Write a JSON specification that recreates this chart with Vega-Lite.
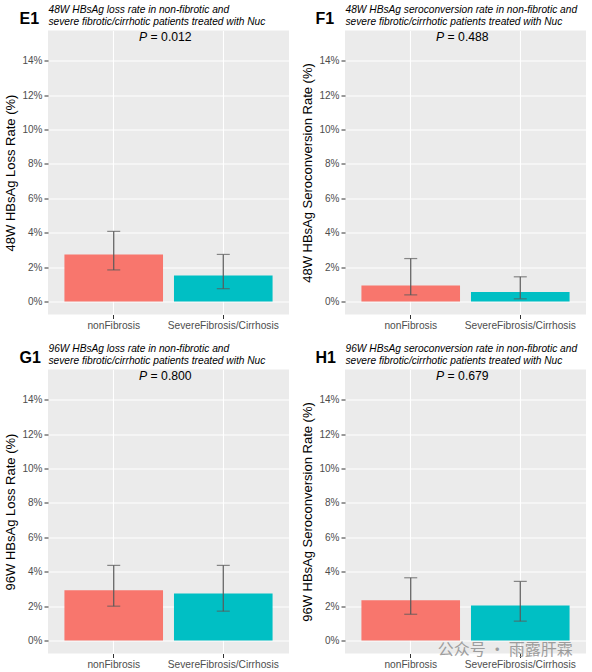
{
  "$schema": "https://vega.github.io/schema/vega-lite/v6.json",
  "padding": {"left": 4, "top": 4.5, "right": 4, "bottom": 0},
  "datasets": {
    "d": [
      {"panel": "E1", "group": "nonFibrosis", "rate": 2.74, "lo": 1.84, "hi": 4.08},
      {"panel": "E1", "group": "SevereFibrosis/Cirrhosis", "rate": 1.51, "lo": 0.75, "hi": 2.74},
      {"panel": "F1", "group": "nonFibrosis", "rate": 0.94, "lo": 0.39, "hi": 2.5},
      {"panel": "F1", "group": "SevereFibrosis/Cirrhosis", "rate": 0.55, "lo": 0.16, "hi": 1.44},
      {"panel": "G1", "group": "nonFibrosis", "rate": 2.93, "lo": 2.0, "hi": 4.37},
      {"panel": "G1", "group": "SevereFibrosis/Cirrhosis", "rate": 2.74, "lo": 1.71, "hi": 4.37},
      {"panel": "H1", "group": "nonFibrosis", "rate": 2.35, "lo": 1.53, "hi": 3.65},
      {"panel": "H1", "group": "SevereFibrosis/Cirrhosis", "rate": 2.04, "lo": 1.13, "hi": 3.44}
    ],
    "pv": [
      {"panel": "E1", "ptext": "= 0.012"},
      {"panel": "F1", "ptext": "= 0.488"},
      {"panel": "G1", "ptext": "= 0.800"},
      {"panel": "H1", "ptext": "= 0.679"}
    ]
  },
  "columns": 2,
  "spacing": {"row": 12, "column": 12},
  "concat": [
    {
      "width": 241, "height": 284,
      "data": {"name": "d"},
      "transform": [{"filter": "datum.panel == 'E1'"}],
      "resolve": {"axis": {"x": "independent"}},
      "layer": [
        {"mark": {"type": "bar"},
         "encoding": {
           "x": {"field": "group", "type": "nominal", "sort": null, "scale": {"paddingInner": 0.1, "paddingOuter": 0.15},
                 "axis": {"orient": "bottom", "title": null, "labelAngle": 0, "grid": true, "gridWidth": 1.1, "bandPosition": 0.5, "labelFontSize": 10.2}},
           "y": {"field": "rate", "type": "quantitative", "scale": {"domain": [-0.75, 15.75], "nice": false, "zero": false},
                 "axis": {"title": "48W HBsAg Loss Rate (%)", "values": [0,1,2,3,4,5,6,7,8,9,10,11,12,13,14,15],
                          "labelExpr": "datum.value % 2 == 0 ? datum.value + '%' : ''",
                          "gridWidth": {"condition": {"test": "datum.value % 2 == 0", "value": 1.1}, "value": 0.5},
                          "tickOpacity": {"condition": {"test": "datum.value % 2 == 0", "value": 1}, "value": 0},
                          "titleFontSize": 13, "titlePadding": 4}},
           "color": {"field": "group", "type": "nominal", "scale": {"domain": ["nonFibrosis", "SevereFibrosis/Cirrhosis"], "range": ["#F8766D", "#00BFC4"]}, "legend": null}
         }},
        {"mark": {"type": "rule", "color": "#5a5a5a", "strokeWidth": 1.2},
         "encoding": {
           "x": {"field": "group", "type": "nominal", "sort": null,
                 "axis": {"orient": "top", "title": "E1", "labels": false, "ticks": false, "domain": false, "grid": false,
                          "titleX": -29, "titleY": -7.5, "titleAngle": 0, "titleAlign": "left", "titleBaseline": "alphabetic",
                          "titleFontSize": 16, "titleFontWeight": "bold"}},
           "y": {"field": "lo", "type": "quantitative", "title": "48W HBsAg Loss Rate (%)"},
           "y2": {"field": "hi"}
         }},
        {"mark": {"type": "tick", "color": "#5a5a5a", "size": 13, "thickness": 1.2},
         "encoding": {
           "x": {"field": "group", "type": "nominal", "sort": null,
                 "axis": {"orient": "top", "title": ["48W HBsAg loss rate in non-fibrotic and", "severe fibrotic/cirrhotic patients treated with Nuc"],
                          "labels": false, "ticks": false, "domain": false, "grid": false,
                          "titleX": 0, "titleY": -17.6, "titleAngle": 0, "titleAlign": "left", "titleBaseline": "alphabetic",
                          "titleFontSize": 10.2, "titleFontStyle": "italic", "titleFontWeight": "normal", "titleLineHeight": 11.6}},
           "y": {"field": "lo", "type": "quantitative", "title": "48W HBsAg Loss Rate (%)"}
         }},
        {"mark": {"type": "tick", "color": "#5a5a5a", "size": 13, "thickness": 1.2},
         "encoding": {
           "x": {"field": "group", "type": "nominal", "sort": null, "axis": null},
           "y": {"field": "hi", "type": "quantitative", "title": "48W HBsAg Loss Rate (%)"}
         }},
        {"data": {"name": "pv"}, "transform": [{"filter": "datum.panel == 'E1'"}],
         "mark": {"type": "text", "text": "P", "fontStyle": "italic", "fontSize": 12.2, "align": "right", "baseline": "alphabetic", "dx": -21.3, "dy": -2.6, "color": "#000000"},
         "encoding": {"y": {"datum": 15, "type": "quantitative", "title": "48W HBsAg Loss Rate (%)"}}},
        {"data": {"name": "pv"}, "transform": [{"filter": "datum.panel == 'E1'"}],
         "mark": {"type": "text", "fontSize": 12.2, "align": "left", "baseline": "alphabetic", "dx": -17.9, "dy": -2.6, "color": "#000000"},
         "encoding": {"text": {"field": "ptext"}, "y": {"datum": 15, "type": "quantitative", "title": "48W HBsAg Loss Rate (%)"}}}
      ]
    },
    {
      "width": 241, "height": 284,
      "data": {"name": "d"},
      "transform": [{"filter": "datum.panel == 'F1'"}],
      "resolve": {"axis": {"x": "independent"}},
      "layer": [
        {"mark": {"type": "bar"},
         "encoding": {
           "x": {"field": "group", "type": "nominal", "sort": null, "scale": {"paddingInner": 0.1, "paddingOuter": 0.15},
                 "axis": {"orient": "bottom", "title": null, "labelAngle": 0, "grid": true, "gridWidth": 1.1, "bandPosition": 0.5, "labelFontSize": 10.2}},
           "y": {"field": "rate", "type": "quantitative", "scale": {"domain": [-0.75, 15.75], "nice": false, "zero": false},
                 "axis": {"title": "48W HBsAg Seroconversion Rate (%)", "values": [0,1,2,3,4,5,6,7,8,9,10,11,12,13,14,15],
                          "labelExpr": "datum.value % 2 == 0 ? datum.value + '%' : ''",
                          "gridWidth": {"condition": {"test": "datum.value % 2 == 0", "value": 1.1}, "value": 0.5},
                          "tickOpacity": {"condition": {"test": "datum.value % 2 == 0", "value": 1}, "value": 0},
                          "titleFontSize": 13, "titlePadding": 4}},
           "color": {"field": "group", "type": "nominal", "scale": {"domain": ["nonFibrosis", "SevereFibrosis/Cirrhosis"], "range": ["#F8766D", "#00BFC4"]}, "legend": null}
         }},
        {"mark": {"type": "rule", "color": "#5a5a5a", "strokeWidth": 1.2},
         "encoding": {
           "x": {"field": "group", "type": "nominal", "sort": null,
                 "axis": {"orient": "top", "title": "F1", "labels": false, "ticks": false, "domain": false, "grid": false,
                          "titleX": -30, "titleY": -7.5, "titleAngle": 0, "titleAlign": "left", "titleBaseline": "alphabetic",
                          "titleFontSize": 16, "titleFontWeight": "bold"}},
           "y": {"field": "lo", "type": "quantitative", "title": "48W HBsAg Seroconversion Rate (%)"},
           "y2": {"field": "hi"}
         }},
        {"mark": {"type": "tick", "color": "#5a5a5a", "size": 13, "thickness": 1.2},
         "encoding": {
           "x": {"field": "group", "type": "nominal", "sort": null,
                 "axis": {"orient": "top", "title": ["48W HBsAg seroconversion rate in non-fibrotic and", "severe fibrotic/cirrhotic patients treated with Nuc"],
                          "labels": false, "ticks": false, "domain": false, "grid": false,
                          "titleX": 0, "titleY": -17.6, "titleAngle": 0, "titleAlign": "left", "titleBaseline": "alphabetic",
                          "titleFontSize": 10.2, "titleFontStyle": "italic", "titleFontWeight": "normal", "titleLineHeight": 11.6}},
           "y": {"field": "lo", "type": "quantitative", "title": "48W HBsAg Seroconversion Rate (%)"}
         }},
        {"mark": {"type": "tick", "color": "#5a5a5a", "size": 13, "thickness": 1.2},
         "encoding": {
           "x": {"field": "group", "type": "nominal", "sort": null, "axis": null},
           "y": {"field": "hi", "type": "quantitative", "title": "48W HBsAg Seroconversion Rate (%)"}
         }},
        {"data": {"name": "pv"}, "transform": [{"filter": "datum.panel == 'F1'"}],
         "mark": {"type": "text", "text": "P", "fontStyle": "italic", "fontSize": 12.2, "align": "right", "baseline": "alphabetic", "dx": -21.3, "dy": -2.6, "color": "#000000"},
         "encoding": {"y": {"datum": 15, "type": "quantitative", "title": "48W HBsAg Seroconversion Rate (%)"}}},
        {"data": {"name": "pv"}, "transform": [{"filter": "datum.panel == 'F1'"}],
         "mark": {"type": "text", "fontSize": 12.2, "align": "left", "baseline": "alphabetic", "dx": -17.9, "dy": -2.6, "color": "#000000"},
         "encoding": {"text": {"field": "ptext"}, "y": {"datum": 15, "type": "quantitative", "title": "48W HBsAg Seroconversion Rate (%)"}}}
      ]
    },
    {
      "width": 241, "height": 284,
      "data": {"name": "d"},
      "transform": [{"filter": "datum.panel == 'G1'"}],
      "resolve": {"axis": {"x": "independent"}},
      "layer": [
        {"mark": {"type": "bar"},
         "encoding": {
           "x": {"field": "group", "type": "nominal", "sort": null, "scale": {"paddingInner": 0.1, "paddingOuter": 0.15},
                 "axis": {"orient": "bottom", "title": null, "labelAngle": 0, "grid": true, "gridWidth": 1.1, "bandPosition": 0.5, "labelFontSize": 10.2}},
           "y": {"field": "rate", "type": "quantitative", "scale": {"domain": [-0.75, 15.75], "nice": false, "zero": false},
                 "axis": {"title": "96W HBsAg Loss Rate (%)", "values": [0,1,2,3,4,5,6,7,8,9,10,11,12,13,14,15],
                          "labelExpr": "datum.value % 2 == 0 ? datum.value + '%' : ''",
                          "gridWidth": {"condition": {"test": "datum.value % 2 == 0", "value": 1.1}, "value": 0.5},
                          "tickOpacity": {"condition": {"test": "datum.value % 2 == 0", "value": 1}, "value": 0},
                          "titleFontSize": 13, "titlePadding": 4}},
           "color": {"field": "group", "type": "nominal", "scale": {"domain": ["nonFibrosis", "SevereFibrosis/Cirrhosis"], "range": ["#F8766D", "#00BFC4"]}, "legend": null}
         }},
        {"mark": {"type": "rule", "color": "#5a5a5a", "strokeWidth": 1.2},
         "encoding": {
           "x": {"field": "group", "type": "nominal", "sort": null,
                 "axis": {"orient": "top", "title": "G1", "labels": false, "ticks": false, "domain": false, "grid": false,
                          "titleX": -29, "titleY": -7.5, "titleAngle": 0, "titleAlign": "left", "titleBaseline": "alphabetic",
                          "titleFontSize": 16, "titleFontWeight": "bold"}},
           "y": {"field": "lo", "type": "quantitative", "title": "96W HBsAg Loss Rate (%)"},
           "y2": {"field": "hi"}
         }},
        {"mark": {"type": "tick", "color": "#5a5a5a", "size": 13, "thickness": 1.2},
         "encoding": {
           "x": {"field": "group", "type": "nominal", "sort": null,
                 "axis": {"orient": "top", "title": ["96W HBsAg loss rate in non-fibrotic and", "severe fibrotic/cirrhotic patients treated with Nuc"],
                          "labels": false, "ticks": false, "domain": false, "grid": false,
                          "titleX": 0, "titleY": -17.6, "titleAngle": 0, "titleAlign": "left", "titleBaseline": "alphabetic",
                          "titleFontSize": 10.2, "titleFontStyle": "italic", "titleFontWeight": "normal", "titleLineHeight": 11.6}},
           "y": {"field": "lo", "type": "quantitative", "title": "96W HBsAg Loss Rate (%)"}
         }},
        {"mark": {"type": "tick", "color": "#5a5a5a", "size": 13, "thickness": 1.2},
         "encoding": {
           "x": {"field": "group", "type": "nominal", "sort": null, "axis": null},
           "y": {"field": "hi", "type": "quantitative", "title": "96W HBsAg Loss Rate (%)"}
         }},
        {"data": {"name": "pv"}, "transform": [{"filter": "datum.panel == 'G1'"}],
         "mark": {"type": "text", "text": "P", "fontStyle": "italic", "fontSize": 12.2, "align": "right", "baseline": "alphabetic", "dx": -21.3, "dy": -2.6, "color": "#000000"},
         "encoding": {"y": {"datum": 15, "type": "quantitative", "title": "96W HBsAg Loss Rate (%)"}}},
        {"data": {"name": "pv"}, "transform": [{"filter": "datum.panel == 'G1'"}],
         "mark": {"type": "text", "fontSize": 12.2, "align": "left", "baseline": "alphabetic", "dx": -17.9, "dy": -2.6, "color": "#000000"},
         "encoding": {"text": {"field": "ptext"}, "y": {"datum": 15, "type": "quantitative", "title": "96W HBsAg Loss Rate (%)"}}}
      ]
    },
    {
      "width": 241, "height": 284,
      "data": {"name": "d"},
      "transform": [{"filter": "datum.panel == 'H1'"}],
      "resolve": {"axis": {"x": "independent"}},
      "layer": [
        {"mark": {"type": "bar"},
         "encoding": {
           "x": {"field": "group", "type": "nominal", "sort": null, "scale": {"paddingInner": 0.1, "paddingOuter": 0.15},
                 "axis": {"orient": "bottom", "title": null, "labelAngle": 0, "grid": true, "gridWidth": 1.1, "bandPosition": 0.5, "labelFontSize": 10.2}},
           "y": {"field": "rate", "type": "quantitative", "scale": {"domain": [-0.75, 15.75], "nice": false, "zero": false},
                 "axis": {"title": "96W HBsAg Seroconversion Rate (%)", "values": [0,1,2,3,4,5,6,7,8,9,10,11,12,13,14,15],
                          "labelExpr": "datum.value % 2 == 0 ? datum.value + '%' : ''",
                          "gridWidth": {"condition": {"test": "datum.value % 2 == 0", "value": 1.1}, "value": 0.5},
                          "tickOpacity": {"condition": {"test": "datum.value % 2 == 0", "value": 1}, "value": 0},
                          "titleFontSize": 13, "titlePadding": 4}},
           "color": {"field": "group", "type": "nominal", "scale": {"domain": ["nonFibrosis", "SevereFibrosis/Cirrhosis"], "range": ["#F8766D", "#00BFC4"]}, "legend": null}
         }},
        {"mark": {"type": "rule", "color": "#5a5a5a", "strokeWidth": 1.2},
         "encoding": {
           "x": {"field": "group", "type": "nominal", "sort": null,
                 "axis": {"orient": "top", "title": "H1", "labels": false, "ticks": false, "domain": false, "grid": false,
                          "titleX": -30, "titleY": -7.5, "titleAngle": 0, "titleAlign": "left", "titleBaseline": "alphabetic",
                          "titleFontSize": 16, "titleFontWeight": "bold"}},
           "y": {"field": "lo", "type": "quantitative", "title": "96W HBsAg Seroconversion Rate (%)"},
           "y2": {"field": "hi"}
         }},
        {"mark": {"type": "tick", "color": "#5a5a5a", "size": 13, "thickness": 1.2},
         "encoding": {
           "x": {"field": "group", "type": "nominal", "sort": null,
                 "axis": {"orient": "top", "title": ["96W HBsAg seroconversion rate in non-fibrotic and", "severe fibrotic/cirrhotic patients treated with Nuc"],
                          "labels": false, "ticks": false, "domain": false, "grid": false,
                          "titleX": 0, "titleY": -17.6, "titleAngle": 0, "titleAlign": "left", "titleBaseline": "alphabetic",
                          "titleFontSize": 10.2, "titleFontStyle": "italic", "titleFontWeight": "normal", "titleLineHeight": 11.6}},
           "y": {"field": "lo", "type": "quantitative", "title": "96W HBsAg Seroconversion Rate (%)"}
         }},
        {"mark": {"type": "tick", "color": "#5a5a5a", "size": 13, "thickness": 1.2},
         "encoding": {
           "x": {"field": "group", "type": "nominal", "sort": null, "axis": null},
           "y": {"field": "hi", "type": "quantitative", "title": "96W HBsAg Seroconversion Rate (%)"}
         }},
        {"data": {"name": "pv"}, "transform": [{"filter": "datum.panel == 'H1'"}],
         "mark": {"type": "text", "text": "P", "fontStyle": "italic", "fontSize": 12.2, "align": "right", "baseline": "alphabetic", "dx": -21.3, "dy": -2.6, "color": "#000000"},
         "encoding": {"y": {"datum": 15, "type": "quantitative", "title": "96W HBsAg Seroconversion Rate (%)"}}},
        {"data": {"name": "pv"}, "transform": [{"filter": "datum.panel == 'H1'"}],
         "mark": {"type": "text", "fontSize": 12.2, "align": "left", "baseline": "alphabetic", "dx": -17.9, "dy": -2.6, "color": "#000000"},
         "encoding": {"text": {"field": "ptext"}, "y": {"datum": 15, "type": "quantitative", "title": "96W HBsAg Seroconversion Rate (%)"}}},
        {"data": {"name": "pv"}, "transform": [{"filter": "datum.panel == 'H1'"}],
         "mark": {"type": "text", "text": "公众号 · 雨露肝霖", "font": "Noto Sans CJK SC", "fontSize": 16, "align": "center", "baseline": "middle", "dx": -15, "dy": 9, "color": "#8f8f8f", "opacity": 0.85},
         "encoding": {
           "x": {"datum": "SevereFibrosis/Cirrhosis", "type": "nominal", "axis": null},
           "y": {"datum": 0, "type": "quantitative", "title": "96W HBsAg Seroconversion Rate (%)"}}}
      ]
    }
  ],
  "config": {
    "font": "Liberation Sans",
    "view": {"fill": "#EBEBEB", "stroke": null},
    "axis": {"domain": false, "labelColor": "#4D4D4D", "labelFontSize": 10, "tickColor": "#333333", "tickSize": 4, "labelPadding": 2,
             "gridColor": "#FFFFFF", "titleFontWeight": "normal", "titleColor": "#000000", "titleFont": "Liberation Sans", "labelFont": "Liberation Sans"}
  }
}
